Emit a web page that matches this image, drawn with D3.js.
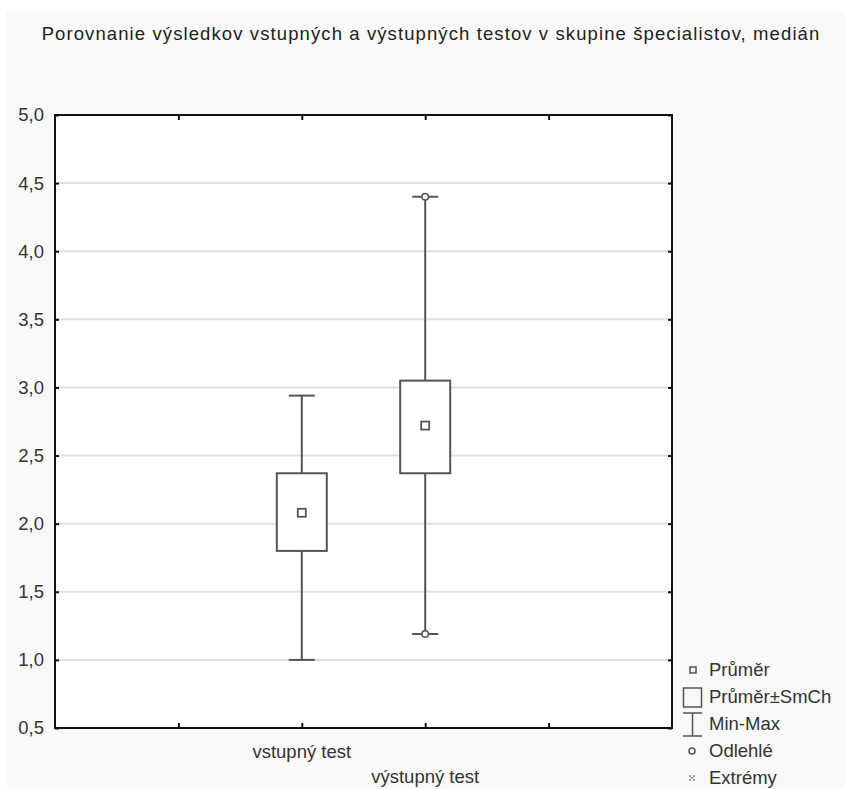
<!DOCTYPE html>
<html>
<head>
<meta charset="utf-8">
<script src="https://cdn.jsdelivr.net/npm/d3@7"></script>
<style>
  html, body { margin: 0; padding: 0; background: #ffffff; }
  svg { display: block; font-family: "Liberation Sans", Arial, sans-serif; }
</style>
</head>
<body>
<div id="chart"></div>
<script>
// data
const categories = ["vstupný test", "výstupný test"];
const catPos = [2, 3];
const means = [2.08, 2.72];
const seLow = [1.80, 2.37];
const seHigh = [2.37, 3.05];
const mins = [1.00, 1.19];
const maxs = [2.94, 4.40];
const outliers = [[], [1.19, 4.40]];
const yTicks = [0.5, 1.0, 1.5, 2.0, 2.5, 3.0, 3.5, 4.0, 4.5, 5.0];
const xTicks = [1, 2, 3, 4];
const legendItems = ["Průměr", "Průměr±SmCh", "Min-Max", "Odlehlé", "Extrémy"];
const title = "Porovnanie výsledkov vstupných a výstupných testov v skupine špecialistov, medián";

const W = 845, H = 789;
const plot = {left: 55, right: 672, top: 115, bottom: 728};
const ink = "#555555";

const svg = d3.select("#chart").append("svg")
    .attr("width", W)
    .attr("height", H);

// outer grey background
svg.append("rect")
    .attr("x", 6).attr("y", 11)
    .attr("width", W - 6).attr("height", H - 11)
    .attr("fill", "#f9f9f9");

svg.append("text")
    .attr("x", 431)
    .attr("y", 40)
    .attr("text-anchor", "middle")
    .style("font-size", "18.5px")
    .style("letter-spacing", "1.1px")
    .style("fill", "#222")
    .text(title);

const x = d3.scaleLinear().domain([0, 5]).range([plot.left, plot.right]);
const y = d3.scaleLinear().domain([0.5, 5.0]).range([plot.bottom, plot.top]);
const fmt = d => d3.format(".1f")(d).replace(".", ",");

// plot area
svg.append("rect")
    .attr("x", plot.left).attr("y", plot.top)
    .attr("width", plot.right - plot.left).attr("height", plot.bottom - plot.top)
    .attr("fill", "#ffffff");

// gridlines
svg.append("g")
    .selectAll("line")
    .data(yTicks.slice(1, -1))
    .join("line")
    .attr("x1", plot.left).attr("x2", plot.right)
    .attr("y1", d => y(d)).attr("y2", d => y(d))
    .attr("stroke", "#e0e0e0")
    .attr("stroke-width", 2);

// axes (ticks point inwards)
const axisLeft = svg.append("g")
    .attr("transform", `translate(${plot.left},0)`)
    .call(d3.axisRight(y).tickValues(yTicks).tickSize(4).tickFormat(""));
const axisRight = svg.append("g")
    .attr("transform", `translate(${plot.right},0)`)
    .call(d3.axisLeft(y).tickValues(yTicks).tickSize(4).tickFormat(""));
const axisBottom = svg.append("g")
    .attr("transform", `translate(0,${plot.bottom})`)
    .call(d3.axisTop(x).tickValues(xTicks).tickSize(5).tickFormat(""));
const axisTop = svg.append("g")
    .attr("transform", `translate(0,${plot.top})`)
    .call(d3.axisBottom(x).tickValues(xTicks).tickSize(5).tickFormat(""));

[axisLeft, axisRight, axisBottom, axisTop].forEach(g => {
    g.select(".domain").remove();
    g.selectAll(".tick line").attr("stroke", "#111").attr("stroke-width", 2);
});

svg.append("rect")
    .attr("x", plot.left).attr("y", plot.top)
    .attr("width", plot.right - plot.left).attr("height", plot.bottom - plot.top)
    .attr("fill", "none")
    .attr("stroke", "#111")
    .attr("stroke-width", 2);

// y tick labels
svg.append("g")
    .selectAll("text")
    .data(yTicks)
    .join("text")
    .attr("x", plot.left - 11)
    .attr("y", d => y(d))
    .attr("dy", "0.35em")
    .attr("text-anchor", "end")
    .style("font-size", "18.5px")
    .style("fill", "#333")
    .text(fmt);

// x category labels, staggered
svg.append("g")
    .selectAll("text")
    .data(categories)
    .join("text")
    .attr("x", (d, i) => x(catPos[i]))
    .attr("y", (d, i) => 758 + i * 25)
    .attr("text-anchor", "middle")
    .style("font-size", "18.5px")
    .style("fill", "#333")
    .text(d => d);

// boxes
const boxW = 50, capW = 26;
const boxes = svg.append("g");
categories.forEach((c, i) => {
    const cx = x(catPos[i]);
    const g = boxes.append("g");
    // whiskers
    g.append("line")
        .attr("x1", cx).attr("x2", cx)
        .attr("y1", y(seHigh[i])).attr("y2", y(maxs[i]))
        .attr("stroke", ink).attr("stroke-width", 2);
    g.append("line")
        .attr("x1", cx).attr("x2", cx)
        .attr("y1", y(seLow[i])).attr("y2", y(mins[i]))
        .attr("stroke", ink).attr("stroke-width", 2);
    [mins[i], maxs[i]].forEach(v => {
        g.append("line")
            .attr("x1", cx - capW / 2).attr("x2", cx + capW / 2)
            .attr("y1", y(v)).attr("y2", y(v))
            .attr("stroke", ink).attr("stroke-width", 2);
    });
    // mean ± SE box
    g.append("rect")
        .attr("x", cx - boxW / 2)
        .attr("y", y(seHigh[i]))
        .attr("width", boxW)
        .attr("height", y(seLow[i]) - y(seHigh[i]))
        .attr("fill", "#ffffff")
        .attr("stroke", ink).attr("stroke-width", 2);
    // mean marker
    g.append("rect")
        .attr("x", cx - 4).attr("y", y(means[i]) - 4)
        .attr("width", 8).attr("height", 8)
        .attr("fill", "#ffffff")
        .attr("stroke", ink).attr("stroke-width", 1.8);
    // outliers
    outliers[i].forEach(v => {
        g.append("circle")
            .attr("cx", cx).attr("cy", y(v))
            .attr("r", 3.3)
            .attr("fill", "#ffffff")
            .attr("stroke", ink).attr("stroke-width", 1.6);
    });
});

// legend
const legend = svg.append("g");
const rowY = i => 676 + i * 27;
legendItems.forEach((name, i) => {
    legend.append("text")
        .attr("x", 709)
        .attr("y", rowY(i))
        .style("font-size", "18.5px")
        .style("fill", "#333")
        .text(name);
});
const mid = i => rowY(i) - 6;
legend.append("rect")
    .attr("x", 690).attr("y", mid(0) - 3)
    .attr("width", 6).attr("height", 6)
    .attr("fill", "none").attr("stroke", ink).attr("stroke-width", 1.5);
legend.append("rect")
    .attr("x", 683.5).attr("y", mid(1) - 9)
    .attr("width", 18).attr("height", 19)
    .attr("fill", "none").attr("stroke", ink).attr("stroke-width", 1.5);
legend.append("line")
    .attr("x1", 692.5).attr("x2", 692.5)
    .attr("y1", mid(2) - 11).attr("y2", mid(2) + 12)
    .attr("stroke", ink).attr("stroke-width", 1.5);
[mid(2) - 11, mid(2) + 12].forEach(v => {
    legend.append("line")
        .attr("x1", 683).attr("x2", 702)
        .attr("y1", v).attr("y2", v)
        .attr("stroke", ink).attr("stroke-width", 1.5);
});
legend.append("circle")
    .attr("cx", 692).attr("cy", mid(3))
    .attr("r", 3)
    .attr("fill", "none").attr("stroke", ink).attr("stroke-width", 1.5);
// extreme marker: four small dots in an x pattern
[[-2, -2], [2, -2], [-2, 2], [2, 2], [0, 0]].forEach(([dx, dy]) => {
    legend.append("rect")
        .attr("x", 692 + dx - 0.75).attr("y", mid(4) + dy - 0.75)
        .attr("width", 1.5).attr("height", 1.5)
        .attr("fill", ink);
});
</script>
</body>
</html>
